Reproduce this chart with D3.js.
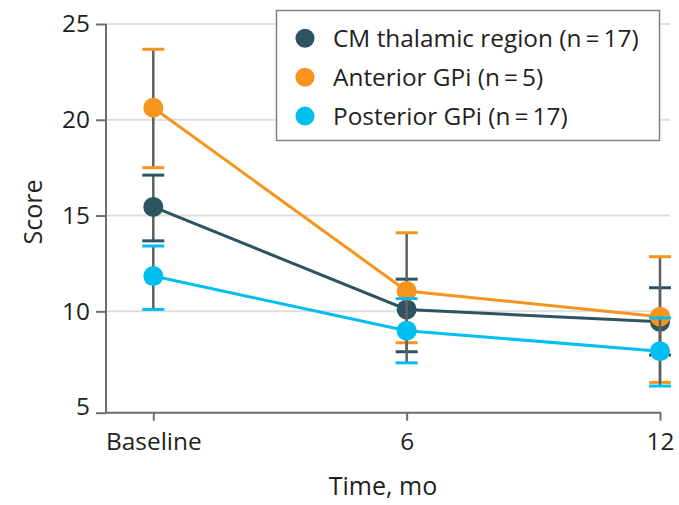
<!DOCTYPE html>
<html><head><meta charset="utf-8">
<script src="https://cdn.jsdelivr.net/npm/d3@7"></script>
<style>body{margin:0;background:#fff;} text{font-family:"Open Sans", "Noto Sans", sans-serif; fill:#231f20;}</style>
</head><body><svg id="c" width="679" height="505"></svg>
<script>
const timePoints = [0, 6, 12];
const timeLabels = ["Baseline", "6", "12"];
const seriesNames = ["CM thalamic region (n\u2009=\u200917)", "Anterior GPi (n\u2009=\u20095)", "Posterior GPi (n\u2009=\u200917)"];
const seriesColors = ["#2d5461", "#f7941d", "#00bff0"];
const cmMean = [15.45, 10.1, 9.45];
const cmLow = [13.68, 7.89, 7.72];
const cmHigh = [17.11, 11.68, 11.23];
const antMean = [20.63, 11.06, 9.72];
const antLow = [17.5, 8.36, 6.29];
const antHigh = [23.68, 14.1, 12.85];
const postMean = [11.84, 8.99, 7.92];
const postLow = [10.1, 7.31, 6.1];
const postHigh = [13.41, 10.66, 9.66];
const yTicks = [5, 10, 15, 20, 25];
const gridTicks = [10, 15, 20, 25];

const series = [
  {name: seriesNames[0], color: seriesColors[0], mean: cmMean, low: cmLow, high: cmHigh},
  {name: seriesNames[1], color: seriesColors[1], mean: antMean, low: antLow, high: antHigh},
  {name: seriesNames[2], color: seriesColors[2], mean: postMean, low: postLow, high: postHigh}
];

const svg = d3.select("#c");
const axisX0 = 106, gridRight = 670;
const x = d3.scaleLinear().domain([0, 12]).range([153.3, 660]);
const y = d3.scaleLinear().domain([5, 25]).range([407.1, 24]);
const axisY = 412.7;
const tickFont = "24.4px";

// gridlines
svg.append("g").selectAll("line").data(gridTicks).join("line")
  .attr("x1", axisX0).attr("x2", gridRight)
  .attr("y1", d => y(d)).attr("y2", d => y(d))
  .attr("stroke", "#dedede").attr("stroke-width", 2);

// y axis
const gy = svg.append("g").attr("transform", `translate(${axisX0},0)`)
  .call(d3.axisLeft(y).tickValues(yTicks).tickSize(10).tickPadding(6));
gy.select(".domain").remove();
gy.selectAll(".tick line").attr("stroke", "#6d6e71").attr("stroke-width", 2);
gy.selectAll(".tick").filter(d => d === 5).select("line")
  .attr("transform", `translate(0,${axisY - y(5)})`);
gy.selectAll(".tick text").style("font-size", tickFont).attr("fill", "#231f20");
svg.append("line").attr("x1", axisX0).attr("x2", axisX0).attr("y1", y(25)).attr("y2", axisY + 1)
  .attr("stroke", "#6d6e71").attr("stroke-width", 2);

// x axis
const gx = svg.append("g").attr("transform", `translate(0,${axisY})`)
  .call(d3.axisBottom(x).tickValues(timePoints).tickFormat((d, i) => timeLabels[i]).tickSize(8));
gx.select(".domain").remove();
gx.selectAll(".tick line").attr("stroke", "#6d6e71").attr("stroke-width", 2);
gx.selectAll(".tick text").style("font-size", tickFont).attr("y", 37.5).attr("dy", 0).attr("fill", "#231f20");
svg.append("line").attr("x1", axisX0).attr("x2", x(12) + 1).attr("y1", axisY).attr("y2", axisY)
  .attr("stroke", "#6d6e71").attr("stroke-width", 2);

// axis titles
svg.append("text").attr("x", 383).attr("y", 495).attr("text-anchor", "middle")
  .style("font-size", "25px").text("Time, mo");
svg.append("text").attr("transform", "translate(41.5,212) rotate(-90)").attr("text-anchor", "middle")
  .style("font-size", "25px").text("Score");

// series
const line = d3.line().x((d, i) => x(timePoints[i])).y(d => y(d));
series.forEach(s => {
  const g = svg.append("g");
  g.append("path").attr("d", line(s.mean)).attr("fill", "none")
    .attr("stroke", s.color).attr("stroke-width", 3);
  timePoints.forEach((t, i) => {
    g.append("line").attr("x1", x(t)).attr("x2", x(t))
      .attr("y1", y(s.low[i])).attr("y2", y(s.high[i]))
      .attr("stroke", "#5f6062").attr("stroke-width", 2.5);
    [s.low[i], s.high[i]].forEach(v => {
      g.append("line").attr("x1", x(t) - 11).attr("x2", x(t) + 11)
        .attr("y1", y(v)).attr("y2", y(v))
        .attr("stroke", s.color).attr("stroke-width", 3);
    });
  });
  g.selectAll("circle").data(s.mean).join("circle")
    .attr("cx", (d, i) => x(timePoints[i])).attr("cy", d => y(d))
    .attr("r", 10).attr("fill", s.color);
});

// legend
const lg = svg.append("g");
lg.append("rect").attr("x", 276.5).attr("y", 10.5).attr("width", 383).attr("height", 130)
  .attr("fill", "#fff").attr("stroke", "#808285").attr("stroke-width", 1.5);
series.forEach((s, i) => {
  const cy = 38.3 + i * 38.9;
  lg.append("circle").attr("cx", 305).attr("cy", cy).attr("r", 9.5).attr("fill", s.color);
  lg.append("text").attr("x", 333).attr("y", cy + 8.5).style("font-size", tickFont).text(s.name);
});
</script>
</body></html>
